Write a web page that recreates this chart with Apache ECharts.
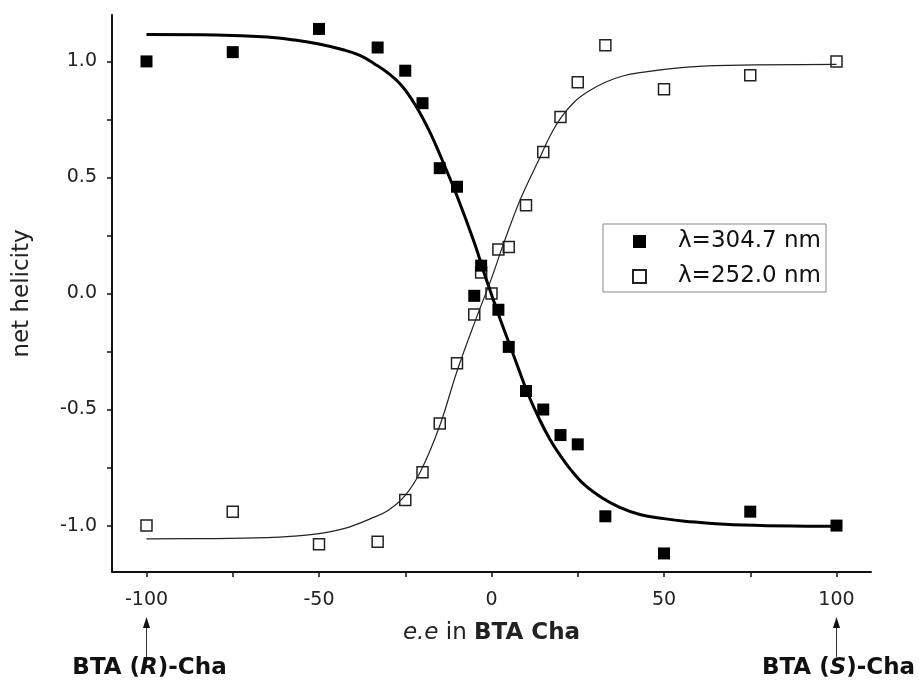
<!DOCTYPE html>
<html>
<head>
<meta charset="utf-8">
<script src="https://cdn.jsdelivr.net/npm/echarts@6/dist/echarts.min.js"></script>
<style>html,body{margin:0;padding:0;background:#fff}#c{width:919px;height:682px}</style>
</head>
<body>
<div id="c"></div>
<script>
// ---- data ----
const seriesNames = ['λ=304.7 nm', 'λ=252.0 nm'];
const xFilled = [-100, -75, -50, -33, -25, -20, -15, -10, -5, -3, 2, 5, 10, 15, 20, 25, 33, 50, 75, 100];
const yFilled = [1.00, 1.04, 1.14, 1.06, 0.96, 0.82, 0.54, 0.46, -0.01, 0.12, -0.07, -0.23, -0.42, -0.50, -0.61, -0.65, -0.96, -1.12, -0.94, -1.00];
const xOpen = [-100, -75, -50, -33, -25, -20, -15, -10, -5, -3, 0, 2, 5, 10, 15, 20, 25, 33, 50, 75, 100];
const yOpen = [-1.00, -0.94, -1.08, -1.07, -0.89, -0.77, -0.56, -0.30, -0.09, 0.09, 0.00, 0.19, 0.20, 0.38, 0.61, 0.76, 0.91, 1.07, 0.88, 0.94, 1.00];
// fitted curves
const fitFilledX = [-100, -80, -65, -57, -50, -43, -38, -34, -30, -26, -22, -18, -15, -10, -5, -1.5, 2.5, 6.5, 10.5, 14, 17, 20, 23, 27, 32, 37, 43, 50, 56, 70, 100];
const fitFilledY = [1.116, 1.114, 1.105, 1.092, 1.075, 1.05, 1.025, 0.99, 0.95, 0.895, 0.81, 0.70, 0.60, 0.42, 0.22, 0.06, -0.11, -0.27, -0.43, -0.545, -0.63, -0.70, -0.76, -0.825, -0.88, -0.92, -0.952, -0.97, -0.981, -0.996, -1.003];
const fitOpenX = [-100, -80, -65, -57, -50, -42, -35, -30, -25, -20.5, -15, -10, -4, 0, 3.5, 8.5, 14, 17, 20, 24, 28, 33, 38, 43, 55, 65, 100];
const fitOpenY = [-1.057, -1.056, -1.052, -1.045, -1.035, -1.01, -0.97, -0.935, -0.87, -0.765, -0.57, -0.335, -0.09, 0.065, 0.215, 0.41, 0.585, 0.68, 0.755, 0.825, 0.87, 0.91, 0.937, 0.952, 0.973, 0.982, 0.987];
const xTicks = [-100, -75, -50, -25, 0, 25, 50, 75, 100];
const xLabels = [-100, -50, 0, 50, 100];
const yTicks = [-1, -0.75, -0.5, -0.25, 0, 0.25, 0.5, 0.75, 1];
const yLabels = [-1, -0.5, 0, 0.5, 1];

const zip = (xs, ys) => xs.map((x, i) => [x, ys[i]]);
const FONT = 'DejaVu Sans';

const chart = echarts.init(document.getElementById('c'), null, {renderer: 'canvas'});
const axisCommon = {
  axisLine: {show: true, onZero: false, lineStyle: {color: '#111', width: 2}},
  axisTick: {show: true, length: 5, lineStyle: {color: '#111', width: 1.5}},
  splitLine: {show: false},
};
chart.setOption({
  animation: false,
  backgroundColor: '#fff',
  textStyle: {fontFamily: FONT},
  grid: {left: 112, right: 48, top: 15, bottom: 110, containLabel: false},
  xAxis: Object.assign({}, axisCommon, {
    type: 'value', min: -110, max: 110,
    axisTick: Object.assign({}, axisCommon.axisTick, {customValues: xTicks}),
    axisLabel: {customValues: xLabels, fontSize: 19, color: '#222', margin: 19, fontFamily: FONT},
    name: '{i|e.e} in {b|BTA Cha}',
    nameLocation: 'middle', nameGap: 50,
    nameTextStyle: {
      fontSize: 23, color: '#222', fontFamily: FONT,
      rich: {
        i: {fontStyle: 'italic', fontSize: 23, color: '#222', fontFamily: FONT},
        b: {fontWeight: 'bold', fontSize: 23, color: '#222', fontFamily: FONT}
      }
    }
  }),
  yAxis: Object.assign({}, axisCommon, {
    type: 'value', min: -1.2, max: 1.2,
    axisTick: Object.assign({}, axisCommon.axisTick, {customValues: yTicks}),
    axisLabel: {customValues: yLabels, fontSize: 19, color: '#222', margin: 15, fontFamily: FONT,
      formatter: v => v.toFixed(1)},
    name: 'net helicity', nameLocation: 'middle', nameGap: 78,
    nameTextStyle: {fontSize: 23, color: '#222', fontFamily: FONT}
  }),
  legend: {
    data: seriesNames,
    orient: 'vertical',
    left: 603, top: 224,
    padding: [6, 5, 4, 29],
    itemGap: 12,
    itemWidth: 13, itemHeight: 13,
    borderColor: '#888', borderWidth: 1,
    backgroundColor: '#fff',
    formatter: name => '{g|}{t|' + name + '}',
    textStyle: {
      fontSize: 23, color: '#111', fontFamily: FONT,
      rich: {g: {width: 27}, t: {fontSize: 23, color: '#111', fontFamily: FONT}}
    }
  },
  series: [
    {
      type: 'line', name: 'fit304', data: zip(fitFilledX, fitFilledY),
      smooth: 0.4, showSymbol: false, symbol: 'none', silent: true,
      lineStyle: {color: '#000', width: 3}
    },
    {
      type: 'line', name: 'fit252', data: zip(fitOpenX, fitOpenY),
      smooth: 0.4, showSymbol: false, symbol: 'none', silent: true,
      lineStyle: {color: '#222', width: 1.2}
    },
    {
      type: 'scatter', name: seriesNames[1], data: zip(xOpen, yOpen),
      symbol: 'rect', symbolSize: 11,
      itemStyle: {color: 'rgba(255,255,255,0)', borderColor: '#222', borderWidth: 1.5, opacity: 1}
    },
    {
      type: 'scatter', name: seriesNames[0], data: zip(xFilled, yFilled),
      symbol: 'rect', symbolSize: 12,
      itemStyle: {color: '#000', opacity: 1}
    }
  ]
});

// annotations under the axis, anchored to the x positions of -100 and 100
function annotations() {
  const xl = chart.convertToPixel({xAxisIndex: 0}, -100);
  const xr = chart.convertToPixel({xAxisIndex: 0}, 100);
  const arrow = (x) => [
    {type: 'line', shape: {x1: x, y1: 657, x2: x, y2: 626}, style: {stroke: '#333', lineWidth: 1}},
    {type: 'polygon', shape: {points: [[x, 617], [x - 3.5, 628], [x + 3.5, 628]]}, style: {fill: '#111'}}
  ];
  const label = (x, letter) => ({
    type: 'text', x: x, y: 668,
    style: {
      text: '{b|BTA (}{bi|' + letter + '}{b|)-Cha}',
      align: 'center', verticalAlign: 'middle',
      rich: {
        b: {fontFamily: FONT, fontWeight: 'bold', fontSize: 23, fill: '#111'},
        bi: {fontFamily: FONT, fontWeight: 'bold', fontStyle: 'italic', fontSize: 23, fill: '#111'}
      }
    }
  });
  chart.setOption({graphic: [].concat(arrow(xl), arrow(xr), [label(xl + 3, 'R'), label(xr + 2, 'S')])});
}
annotations();
</script>
</body>
</html>
